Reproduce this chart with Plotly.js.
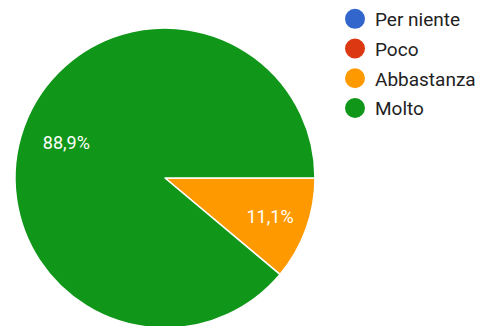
<!DOCTYPE html>
<html>
<head>
<meta charset="utf-8">
<script src="https://cdn.plot.ly/plotly-3.0.1.min.js"></script>
<style>
html,body{margin:0;padding:0;overflow:hidden;background:#fff;}
#chart{width:477px;height:340px;}
</style>
</head>
<body>
<div id="chart"></div>
<script>
const categories = ["Per niente", "Poco", "Abbastanza", "Molto"];
const counts = [0, 0, 1, 8];
const colors = ["#3366cc", "#dc3912", "#ff9900", "#109618"];

const common = {
  type: "pie",
  labels: categories,
  values: counts,
  sort: false,
  direction: "clockwise",
  rotation: 90,
  hoverinfo: "none",
  showlegend: false,
  domain: {x: [0, 1], y: [0, 1]}
};

const pieTrace = Object.assign({}, common, {
  marker: {colors: colors, line: {color: "#ffffff", width: 1.5}},
  textinfo: "none"
});

const labelTrace = Object.assign({}, common, {
  hole: 0.4,
  marker: {colors: colors.map(() => "rgba(0,0,0,0)"), line: {width: 0}},
  texttemplate: "%{percent:.1%}",
  textposition: "inside",
  insidetextorientation: "horizontal",
  textfont: {family: "Roboto", size: 18, color: "#ffffff"}
});

const legendTraces = categories.map((c, i) => ({
  type: "scatter",
  mode: "markers",
  x: [null], y: [null],
  name: c,
  legendgroup: "g" + i,
  marker: {symbol: "circle", size: 16, color: colors[i], line: {color: colors[i], width: 4}},
  hoverinfo: "none"
}));

const layout = {
  width: 477, height: 340,
  margin: {l: 15, r: 162, t: 28, b: 12},
  paper_bgcolor: "#ffffff",
  plot_bgcolor: "#ffffff",
  separators: ",.",
  xaxis: {visible: false},
  yaxis: {visible: false},
  showlegend: true,
  legend: {
    xref: "container", yref: "container",
    x: 335 / 477, y: 1, xanchor: "left", yanchor: "top",
    font: {family: "Roboto", size: 19, color: "#222222"},
    traceorder: "grouped",
    tracegroupgap: 2,
    itemsizing: "trace",
    bgcolor: "rgba(0,0,0,0)"
  }
};

Plotly.newPlot("chart", [pieTrace, labelTrace].concat(legendTraces), layout, {staticPlot: true});
</script>
</body>
</html>
